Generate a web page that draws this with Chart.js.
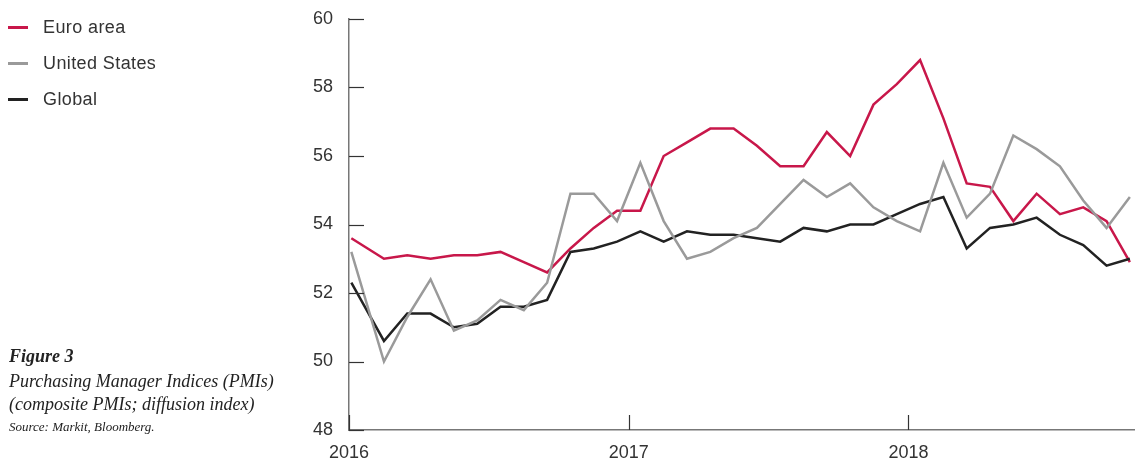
<!DOCTYPE html>
<html>
<head>
<meta charset="utf-8">
<script src="https://cdn.jsdelivr.net/npm/chart.js@4/dist/chart.umd.min.js"></script>
<style>
  body { margin: 0; background: #fff; }
  #wrap { position: relative; width: 1135px; height: 462px; }
  #grafico { position: absolute; left: 0; top: 0; }
  .leg { position: absolute; left: 43px; font: 18px "Liberation Sans", Arial, sans-serif; line-height: 18px; letter-spacing: 0.4px; color: #333; white-space: nowrap; }
  .legMark { position: absolute; left: 8px; width: 20px; height: 2.5px; }
  .cap { position: absolute; left: 9px; font-family: "Liberation Serif", "Times New Roman", serif; font-style: italic; color: #222; white-space: nowrap; }
</style>
</head>
<body>
<div id="wrap">
  <canvas id="grafico" width="1135" height="462"></canvas>

  <div class="legMark" style="top:26px; background:#c8174a"></div>
  <div class="leg" style="top:18px">Euro area</div>
  <div class="legMark" style="top:62px; background:#9a9a9a"></div>
  <div class="leg" style="top:54px">United States</div>
  <div class="legMark" style="top:98px; background:#222"></div>
  <div class="leg" style="top:90px">Global</div>

  <div class="cap" style="top:347px; font-size:18px; line-height:18px; font-weight:bold">Figure 3</div>
  <div class="cap" style="top:372px; font-size:18px; line-height:18px">Purchasing Manager Indices (PMIs)</div>
  <div class="cap" style="top:395px; font-size:18px; line-height:18px">(composite PMIs; diffusion index)</div>
  <div class="cap" style="top:420px; font-size:13px; line-height:13px">Source: Markit, Bloomberg.</div>
</div>

<script>
    // monthly values, Jan 2016 - Oct 2018
    var euroArea = [53.6, 53.0, 53.1, 53.0, 53.1, 53.1, 53.2, 52.9, 52.6, 53.3, 53.9, 54.4,
                    54.4, 56.0, 56.4, 56.8, 56.8, 56.3, 55.7, 55.7, 56.7, 56.0, 57.5, 58.1,
                    58.8, 57.1, 55.2, 55.1, 54.1, 54.9, 54.3, 54.5, 54.1, 52.9];
    var unitedStates = [53.2, 50.0, 51.3, 52.4, 50.9, 51.2, 51.8, 51.5, 52.3, 54.9, 54.9, 54.1,
                        55.8, 54.1, 53.0, 53.2, 53.6, 53.9, 54.6, 55.3, 54.8, 55.2, 54.5, 54.1,
                        53.8, 55.8, 54.2, 54.9, 56.6, 56.2, 55.7, 54.7, 53.9, 54.8];
    var global = [52.3, 50.6, 51.4, 51.4, 51.0, 51.1, 51.6, 51.6, 51.8, 53.2, 53.3, 53.5,
                  53.8, 53.5, 53.8, 53.7, 53.7, 53.6, 53.5, 53.9, 53.8, 54.0, 54.0, 54.3,
                  54.6, 54.8, 53.3, 53.9, 54.0, 54.2, 53.7, 53.4, 52.8, 53.0];
    var anoInicial = 2016;
    var ticksAnos = [2016, 2017, 2018];
    var ticksY = [48, 50, 52, 54, 56, 58, 60];

    // position in months from Jan 2016 (points sit mid-month, first one at the start)
    function serie(valores) {
        return valores.map(function (v, i) {
            return { x: i === 0 ? 0.1 : i + 0.5, y: v };
        });
    }

    var fonteEixo = { family: '"Liberation Sans", Arial, sans-serif', size: 18 };

    // short tick marks drawn inward from the axes
    var marcasInternas = {
        id: 'marcasInternas',
        afterDraw: function (chart) {
            var ctx = chart.ctx;
            var area = chart.chartArea;
            var x = chart.scales.x, y = chart.scales.y;
            ctx.save();
            ctx.strokeStyle = '#333';
            ctx.lineWidth = 1.2;
            ticksY.forEach(function (t) {
                var py = Math.round(y.getPixelForValue(t)) + 0.5;
                ctx.beginPath();
                ctx.moveTo(area.left, py);
                ctx.lineTo(area.left + 15, py);
                ctx.stroke();
            });
            ticksAnos.forEach(function (a) {
                var px = Math.round(x.getPixelForValue((a - anoInicial) * 12)) + 0.5;
                ctx.beginPath();
                ctx.moveTo(px, area.bottom);
                ctx.lineTo(px, area.bottom - 15);
                ctx.stroke();
            });
            ctx.restore();
        }
    };

    var configGrafico = {
        type: 'line',
        data: {
            datasets: [
                { label: 'United States', data: serie(unitedStates), borderColor: '#9a9a9a' },
                { label: 'Global', data: serie(global), borderColor: '#222222' },
                { label: 'Euro area', data: serie(euroArea), borderColor: '#c8174a' }
            ]
        },
        options: {
            responsive: false,
            animation: false,
            layout: { padding: { top: 19, right: 0, bottom: 0, left: 0 } },
            elements: {
                line: { borderWidth: 2.5, tension: 0, borderJoinStyle: 'miter' },
                point: { radius: 0 }
            },
            plugins: {
                legend: { display: false },
                tooltip: { enabled: false }
            },
            scales: {
                x: {
                    type: 'linear',
                    min: 0,
                    max: 33.72,
                    grid: { display: false, drawTicks: false },
                    border: { display: true, color: '#777', width: 1.5 },
                    afterBuildTicks: function (scale) {
                        scale.ticks = ticksAnos.map(function (a) { return { value: (a - anoInicial) * 12 }; });
                    },
                    ticks: {
                        color: '#333',
                        font: fonteEixo,
                        padding: 12,
                        maxRotation: 0,
                        callback: function (v) { return String(anoInicial + Math.round(v / 12)); }
                    },
                    afterFit: function (scale) {
                        scale.height = 32;
                        scale.paddingLeft = 0;
                        scale.paddingRight = 0;
                    }
                },
                y: {
                    min: 48,
                    max: 60,
                    grid: { display: false, drawTicks: false },
                    border: { display: true, color: '#777', width: 1.5 },
                    afterBuildTicks: function (scale) {
                        scale.ticks = ticksY.map(function (t) { return { value: t }; });
                    },
                    ticks: {
                        color: '#333',
                        font: fonteEixo,
                        padding: 16
                    },
                    afterFit: function (scale) {
                        scale.width = 349;
                        scale.paddingTop = 0;
                        scale.paddingBottom = 0;
                    }
                }
            }
        },
        plugins: [marcasInternas]
    };

    let grafico = new Chart(
        document.getElementById('grafico'),
        configGrafico
    );
</script>
</body>
</html>
